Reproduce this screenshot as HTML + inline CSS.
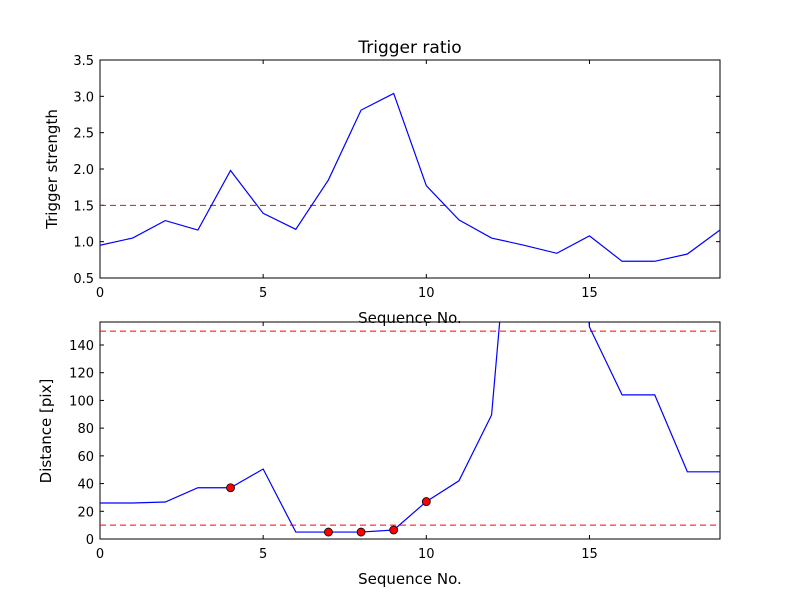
<!DOCTYPE html>
<html><head><meta charset="utf-8"><style>
body{margin:0;background:#fff;}
svg text{font-family:"DejaVu Sans","Liberation Sans",sans-serif;fill:#000;}
</style></head><body>
<svg id="c" width="800" height="600" viewBox="0 0 800 600">
<rect width="800" height="600" fill="#fff"/>
<defs><clipPath id="cp1"><rect x="100" y="60" width="620" height="218"/></clipPath>
<clipPath id="cp2"><rect x="100" y="322" width="620" height="217"/></clipPath></defs>
<g id="top"></g>
<g id="bot"></g>
</svg>
<script>
const seq = [0,1,2,3,4,5,6,7,8,9,10,11,12,13,14,15,16,17,18,19];
const strength = [0.95,1.05,1.29,1.16,1.98,1.39,1.17,1.85,2.81,3.04,1.77,1.30,1.05,0.95,0.84,1.08,0.73,0.73,0.83,1.16];
const distance = [26,26,26.7,37,37,50.5,5,5,5,6.5,27,42,89.5,360,400,153,104,104,48.5,48.5];
const markedIdx = [4,7,8,9,10];
const strengthThreshold = [1.5];
const distThresholds = [10,150];
const topYTicks = [0.5,1.0,1.5,2.0,2.5,3.0,3.5];
const botYTicks = [0,20,40,60,80,100,120,140];
const xTicks = [0,5,10,15];
const NS="http://www.w3.org/2000/svg";
function mk(p,t,a){const e=document.createElementNS(NS,t);for(const k in a)e.setAttribute(k,a[k]);p.appendChild(e);return e;}
function panel(g,top,bottom,ymin,ymax,yt,fmt,ys,cp,ylabel,title){
  const L=100,R=720;
  const x=v=>L+(v-0)/(19-0)*(R-L);
  const y=v=>bottom-(v-ymin)/(ymax-ymin)*(bottom-top);
  const ax=mk(g,'rect',{x:L,y:top,width:R-L,height:bottom-top,fill:'none',stroke:'#000','stroke-width':1});
  
  xTicks.forEach(t=>{
    mk(g,'line',{x1:x(t),x2:x(t),y1:bottom,y2:bottom-4,stroke:'#000'});
    mk(g,'line',{x1:x(t),x2:x(t),y1:top,y2:top+4,stroke:'#000'});
    const tx=mk(g,'text',{x:x(t),y:bottom+19,'text-anchor':'middle','font-size':'13'});tx.textContent=t;
    
  });
  yt.forEach(t=>{
    mk(g,'line',{x1:L,x2:L+4,y1:y(t),y2:y(t),stroke:'#000'});
    mk(g,'line',{x1:R,x2:R-4,y1:y(t),y2:y(t),stroke:'#000'});
    const tx=mk(g,'text',{x:L-6,y:y(t)+5,'text-anchor':'end','font-size':'13'});tx.textContent=fmt(t);
    
  });
  const cg=mk(g,'g',{'clip-path':'url(#'+cp+')'});
  return {x,y,cg};
}
// top
const tg=document.getElementById('top');
const T=panel(tg,60,278,0.5,3.5,topYTicks,v=>v.toFixed(1),strength,'cp1');
strengthThreshold.forEach(v=>{const l=mk(T.cg,'line',{x1:100,x2:720,y1:T.y(v),y2:T.y(v),stroke:'#f00','stroke-dasharray':'6,4'});
});
const p1=mk(T.cg,'polyline',{points:seq.map((s,i)=>T.x(s)+','+T.y(strength[i])).join(' '),fill:'none',stroke:'#00f','stroke-width':1.2});

let t1=mk(tg,'text',{x:410,y:53,'text-anchor':'middle','font-size':'17'});t1.textContent='Trigger ratio';

let t2=mk(tg,'text',{x:410,y:323,'text-anchor':'middle','font-size':'15'});t2.textContent='Sequence No.';

let t3=mk(tg,'text',{x:57,y:169,'text-anchor':'middle','font-size':'15',transform:'rotate(-90 57 169)'});t3.textContent='Trigger strength';

// bottom
const bg=document.getElementById('bot');
const B=panel(bg,322,539,0,156.6,botYTicks,v=>v,distance,'cp2');
distThresholds.forEach(v=>{const l=mk(B.cg,'line',{x1:100,x2:720,y1:B.y(v),y2:B.y(v),stroke:'#f00','stroke-dasharray':'6,4'});
});
const p2=mk(B.cg,'polyline',{points:seq.map((s,i)=>B.x(s)+','+B.y(distance[i])).join(' '),fill:'none',stroke:'#00f','stroke-width':1.2});

markedIdx.forEach(i=>{const c=mk(bg,'circle',{cx:B.x(seq[i]),cy:B.y(distance[i]),r:4,fill:'#f00',stroke:'#000','stroke-width':0.8});
});
let t4=mk(bg,'text',{x:410,y:584,'text-anchor':'middle','font-size':'15'});t4.textContent='Sequence No.';

let t5=mk(bg,'text',{x:51,y:431,'text-anchor':'middle','font-size':'15',transform:'rotate(-90 51 431)'});t5.textContent='Distance [pix]';

</script>
</body></html>
